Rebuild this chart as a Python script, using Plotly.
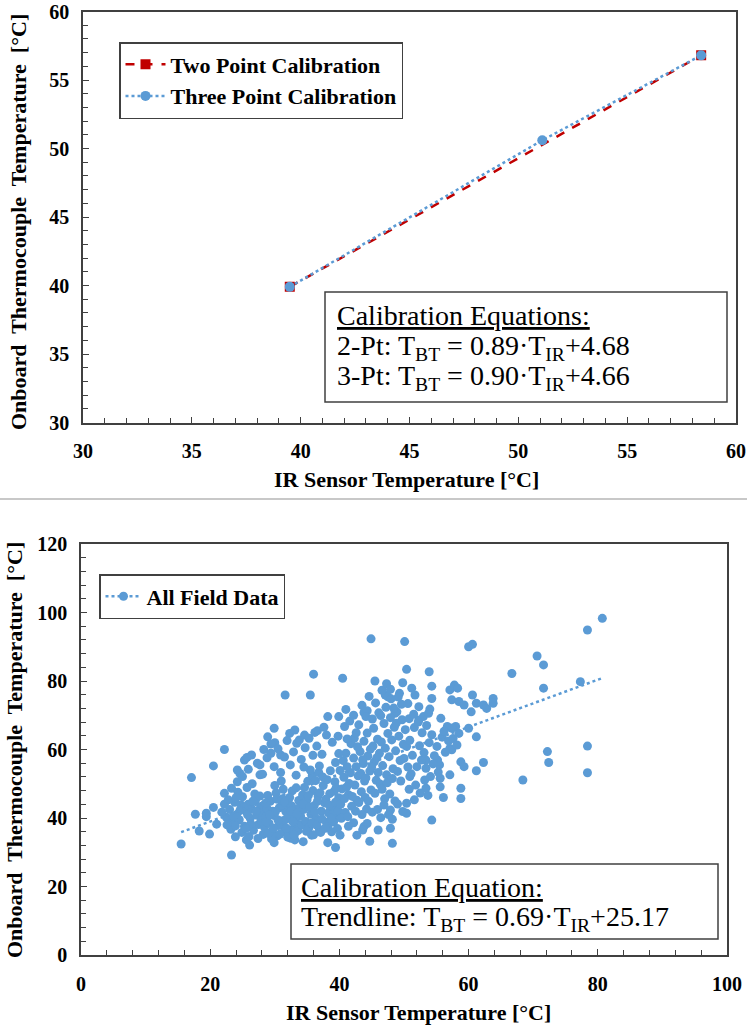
import plotly.graph_objects as go

W, H = 747, 1025

# ---------------- data: top chart (calibration) ----------------
two_pt_ir = [39.5, 58.4]
two_pt_tc = [39.9, 56.8]
three_pt_ir = [39.5, 51.1, 58.4]
three_pt_tc = [39.9, 50.6, 56.8]

# ---------------- data: bottom chart (field data) ----------------
field_points = [
    # sparse / outlying points
    (15.5, 32.4), (17.1, 51.8), (17.7, 41.1), (18.3, 36.2), (19.4, 41.4), (19.4, 40.4),
    (19.9, 35.3), (20.5, 55.2), (20.5, 43.1), (21.0, 38.2), (22.2, 60.0), (22.2, 47.2),
    (22.2, 44.0), (23.3, 29.2), (23.9, 34.5), (23.3, 48.7), (24.2, 54.0), (24.6, 53.0),
    (25.3, 56.9), (25.7, 57.7), (26.4, 58.4), (26.1, 32.1), (25.6, 33.6), (27.7, 55.5),
    (27.7, 52.6), (28.3, 60.0), (28.9, 63.7), (29.4, 58.9), (29.9, 66.2), (29.9, 32.8),
    (30.0, 62.0), (30.9, 58.4), (31.6, 75.9), (32.3, 64.7), (33.1, 65.7), (33.4, 61.8),
    (32.5, 34.1), (33.1, 33.6), (34.4, 33.1), (34.6, 64.2), (35.5, 75.9), (36.0, 82.0),
    (36.6, 65.5), (35.7, 35.0), (38.2, 69.6), (38.2, 32.8), (39.4, 31.4), (39.9, 69.6),
    (40.1, 35.0), (40.5, 80.8), (41.0, 71.7), (42.7, 35.0), (43.8, 37.5), (43.8, 70.8),
    (44.3, 71.3), (44.9, 92.3), (45.5, 80.0), (46.0, 36.5), (47.1, 75.9), (47.5, 75.4),
    (47.9, 37.0), (48.2, 32.6), (48.2, 39.6), (47.9, 42.3), (48.6, 70.6), (50.1, 91.5),
    (50.4, 83.4), (49.3, 76.4), (50.4, 41.4), (50.4, 44.3), (50.8, 48.4), (50.9, 52.1),
    (51.6, 45.3), (51.2, 77.9), (51.7, 75.9), (52.3, 72.5), (52.3, 68.6), (53.0, 69.6),
    (53.8, 70.6), (53.9, 82.7), (54.3, 78.5), (54.3, 74.9), (54.3, 39.4), (53.4, 56.9),
    (53.4, 54.5), (54.1, 52.1), (53.4, 48.7), (52.7, 56.9), (55.2, 56.9), (55.6, 51.6),
    (55.6, 49.1), (56.1, 46.0), (57.1, 52.6), (57.1, 60.3), (57.4, 59.9), (56.7, 66.7),
    (57.1, 77.4), (57.8, 78.8), (58.3, 77.9), (57.4, 74.5), (58.5, 74.0), (59.3, 73.0),
    (58.5, 64.7), (58.0, 66.7), (57.4, 66.2), (58.8, 56.4), (58.8, 48.7), (58.8, 45.7),
    (59.3, 55.0), (60.0, 66.2), (60.0, 90.0), (60.6, 90.7), (60.6, 75.9), (60.4, 71.0),
    (61.2, 73.5), (61.2, 63.7), (61.2, 53.8), (62.3, 56.2), (62.3, 73.0), (62.8, 72.0),
    (63.8, 74.9), (63.8, 73.5), (66.7, 82.2), (68.4, 51.1), (70.6, 87.3), (71.6, 84.7),
    (71.6, 77.9), (72.2, 59.4), (72.4, 56.2), (77.3, 79.8), (78.4, 94.9), (78.4, 61.0),
    (78.4, 53.2), (80.7, 98.3),
    # dense cluster, x 22-28
    (22.5, 40.2), (23.0, 42.5), (23.4, 38.8), (23.8, 44.6), (24.1, 41.0), (24.5, 39.5),
    (24.8, 43.8), (25.0, 46.2), (25.3, 37.6), (25.6, 41.8), (25.9, 44.0), (26.2, 39.9),
    (26.4, 42.7), (26.7, 36.4), (27.0, 45.1), (27.2, 40.8), (27.5, 38.1), (27.8, 43.3),
    (28.0, 41.5), (28.2, 35.2), (24.3, 47.5), (25.7, 48.9), (26.9, 47.0), (23.2, 36.7),
    (24.9, 35.8), (26.0, 34.6), (27.4, 34.0), (28.4, 37.3), (22.8, 45.3), (21.8, 41.7),
    (23.6, 40.6), (25.2, 43.0), (26.6, 44.9), (27.7, 46.4), (28.5, 43.9), (24.6, 42.2),
    (26.3, 38.3), (27.9, 39.2), (25.5, 36.9), (23.9, 37.7), (28.6, 40.3), (27.1, 42.0),
    (25.8, 40.9), (24.0, 45.9), (22.6, 38.0),
    # dense cluster, x 28-34
    (28.8, 42.8), (29.1, 38.5), (29.3, 44.9), (29.6, 36.2), (29.9, 40.7), (30.2, 47.3),
    (30.4, 34.8), (30.7, 43.0), (30.9, 39.1), (31.2, 45.6), (31.4, 37.4), (31.7, 41.9),
    (31.9, 35.6), (32.2, 44.0), (32.4, 39.8), (32.7, 47.9), (32.9, 36.9), (33.2, 42.3),
    (33.4, 38.4), (33.7, 45.1), (34.0, 40.5), (28.9, 46.6), (29.5, 33.9), (30.1, 41.9),
    (30.6, 37.8), (31.1, 43.8), (31.6, 39.5), (32.1, 41.1), (32.6, 43.5), (33.1, 40.1),
    (33.6, 36.3), (29.0, 35.5), (30.3, 45.5), (31.3, 48.4), (32.3, 46.0), (33.3, 48.8),
    (33.9, 43.3), (29.7, 42.0), (30.8, 35.3), (31.8, 37.0), (32.8, 38.9), (28.7, 38.9),
    (29.2, 40.9), (30.5, 39.4), (31.5, 44.7), (32.5, 42.0), (33.5, 41.4), (34.2, 38.0),
    (34.3, 46.7), (30.0, 49.5), (31.0, 50.8), (29.8, 37.0), (32.0, 34.4), (33.0, 35.0),
    (28.6, 44.4),
    # dense cluster, x 34-40
    (34.5, 42.5), (34.8, 39.0), (35.0, 45.3), (35.3, 37.2), (35.6, 41.1), (35.9, 48.0),
    (36.1, 43.6), (36.4, 39.8), (36.7, 46.4), (36.9, 36.6), (37.2, 42.0), (37.5, 49.5),
    (37.7, 44.4), (38.0, 38.7), (38.3, 41.5), (38.5, 47.1), (38.8, 36.0), (39.0, 43.0),
    (39.3, 50.6), (39.6, 40.2), (39.9, 45.9), (34.6, 48.9), (35.1, 50.7), (35.8, 52.4),
    (36.3, 50.9), (36.8, 53.3), (37.4, 52.0), (38.1, 51.2), (38.6, 53.8), (39.2, 47.8),
    (34.9, 36.1), (35.7, 38.5), (36.5, 37.9), (37.3, 39.7), (38.2, 37.5), (39.1, 38.8),
    (39.7, 36.9), (34.4, 44.1), (35.4, 43.2), (36.2, 41.7), (36.6, 44.9), (37.0, 47.4),
    (37.9, 45.5), (38.4, 43.8), (38.9, 41.0), (39.4, 44.6), (39.8, 42.1), (35.2, 46.6),
    (36.0, 35.1), (37.1, 35.8), (37.8, 37.0), (38.7, 39.9), (39.5, 48.8), (36.9, 55.2),
    (35.5, 54.0),
    # dense cluster, x 40-46
    (40.2, 44.0), (40.4, 48.5), (40.7, 51.9), (40.9, 41.6), (41.2, 55.0), (41.4, 46.8),
    (41.7, 53.2), (41.9, 43.4), (42.2, 57.5), (42.4, 49.6), (42.7, 45.2), (42.9, 52.3),
    (43.2, 59.4), (43.4, 47.7), (43.7, 55.9), (43.9, 50.8), (44.2, 42.6), (44.4, 58.1),
    (44.7, 53.7), (44.9, 48.2), (45.2, 61.0), (45.4, 56.4), (45.7, 51.0), (45.9, 63.0),
    (46.2, 58.9), (40.1, 53.9), (40.6, 56.8), (41.0, 58.9), (41.5, 50.1), (42.0, 46.3),
    (42.5, 42.0), (43.0, 44.5), (43.5, 41.0), (44.0, 46.0), (44.5, 44.9), (45.0, 54.9),
    (45.5, 47.2), (46.0, 53.3), (40.3, 39.9), (40.8, 45.7), (41.3, 40.4), (41.8, 61.7),
    (42.3, 63.3), (42.8, 60.8), (43.3, 53.0), (43.8, 62.4), (44.3, 64.8), (44.8, 60.1),
    (45.3, 66.2), (45.8, 57.6), (46.3, 49.9), (41.1, 49.0), (42.6, 55.0), (44.1, 51.7),
    (43.6, 57.0),
    # cluster, x 46-50
    (46.5, 62.2), (46.7, 55.3), (46.9, 67.6), (47.1, 60.4), (47.3, 52.6), (47.5, 64.7),
    (47.7, 57.9), (47.9, 69.3), (48.1, 62.8), (48.3, 54.4), (48.5, 66.5), (48.7, 59.6),
    (48.9, 71.0), (49.2, 63.9), (49.4, 56.8), (49.7, 68.7), (49.9, 61.5), (50.2, 65.8),
    (46.6, 48.4), (47.0, 45.6), (47.4, 50.3), (47.8, 47.0), (48.2, 51.5), (48.6, 45.0),
    (49.0, 53.6), (49.5, 50.8), (46.4, 69.9), (47.2, 72.3), (48.0, 74.8), (48.8, 67.7),
    (49.6, 73.2), (50.0, 57.4), (50.4, 60.9), (50.6, 54.9), (50.8, 69.0),
    # upper-left spread, x 24-40
    (24.2, 50.6), (25.0, 52.1), (25.9, 54.2), (26.5, 50.0), (27.3, 56.0), (28.1, 52.8),
    (28.8, 57.6), (29.4, 61.6), (29.9, 55.0), (30.5, 60.2), (30.9, 53.3), (31.5, 57.8),
    (31.9, 62.6), (32.4, 55.5), (32.9, 59.3), (33.3, 52.5), (33.8, 62.8), (34.1, 57.1),
    (34.7, 60.5), (35.3, 63.3), (35.9, 58.3), (36.5, 61.0), (37.3, 58.6), (38.0, 64.2),
    (38.9, 62.1), (39.4, 56.2), (39.9, 58.8), (36.2, 65.0), (37.6, 66.5), (34.5, 54.9),
    # upper band, x 40-50
    (40.8, 66.7), (41.6, 68.3), (42.2, 70.0), (43.0, 67.2), (43.5, 72.9), (44.1, 69.6),
    (44.6, 75.5), (45.1, 68.9), (45.6, 73.6), (46.1, 70.7), (46.6, 77.3), (47.3, 79.2),
    (47.9, 77.6), (48.4, 72.1), (49.1, 75.3), (49.8, 79.5), (50.6, 73.4), (42.6, 64.9),
    (39.8, 63.9), (41.2, 63.1),
    # x 50-58 body
    (50.9, 62.7), (51.3, 58.3), (51.6, 66.4), (52.0, 55.0), (52.4, 61.1), (52.8, 64.9),
    (53.1, 59.1), (53.5, 67.0), (53.9, 62.0), (54.3, 64.3), (54.7, 58.2), (55.1, 60.9),
    (55.5, 55.5), (55.9, 63.6), (56.4, 59.2), (56.9, 62.5), (51.1, 52.9), (51.8, 49.6),
    (52.5, 47.3), (53.2, 51.1), (53.7, 46.6), (54.5, 55.8), (55.3, 53.4), (56.2, 65.3),
    (57.6, 63.2), (58.2, 61.3), (51.5, 70.3), (52.2, 68.0), (54.0, 71.8), (55.7, 69.1),
    # lower right of cluster
    (44.3, 38.4), (45.1, 41.7), (45.9, 42.5), (46.4, 40.1), (46.9, 43.8), (47.6, 41.0),
    (49.0, 44.1), (49.8, 41.9), (44.7, 33.2), (43.6, 36.5), (42.2, 38.6), (41.4, 37.6),
]
field_ir = [p[0] for p in field_points]
field_tc = [p[1] for p in field_points]

# trendline as printed on the chart
trend_slope = 0.69
trend_intercept = 25.17
trend_ir = [min(field_ir), max(field_ir)]
trend_tc = [trend_slope * v + trend_intercept for v in trend_ir]

# ---------------- styling ----------------
RED = "#C00000"
BLUE = "#5B9BD5"
FRAME = "#404040"
SERIF = "Liberation Serif"


def px_x(p):
    return p / W


def px_y(p):
    return 1 - p / H


fig = go.Figure()

# top chart traces
fig.add_trace(go.Scatter(
    x=two_pt_ir, y=two_pt_tc, mode="lines+markers", name="Two Point Calibration",
    line=dict(color=RED, dash="dash", width=2.5),
    marker=dict(symbol="square", size=10, color=RED),
    xaxis="x", yaxis="y", legend="legend"))
fig.add_trace(go.Scatter(
    x=three_pt_ir, y=three_pt_tc, mode="lines+markers", name="Three Point Calibration",
    line=dict(color=BLUE, dash="dot", width=2.5),
    marker=dict(symbol="circle", size=10, color=BLUE),
    xaxis="x", yaxis="y", legend="legend"))

# bottom chart traces
fig.add_trace(go.Scatter(
    x=field_ir, y=field_tc, mode="markers", name="All Field Data", showlegend=False,
    marker=dict(symbol="circle", size=9, color=BLUE),
    xaxis="x2", yaxis="y2"))
fig.add_trace(go.Scatter(
    x=trend_ir, y=trend_tc, mode="lines", showlegend=False,
    line=dict(color=BLUE, dash="dot", width=2.5),
    xaxis="x2", yaxis="y2"))
fig.add_trace(go.Scatter(
    x=[None], y=[None], mode="lines+markers", name="All Field Data",
    line=dict(color=BLUE, dash="dot", width=2.5),
    marker=dict(symbol="circle", size=9, color=BLUE),
    xaxis="x2", yaxis="y2", legend="legend2"))

tickfont = dict(family=SERIF, size=20, color="black", weight="bold")


def axis_common(**kw):
    d = dict(showline=True, linecolor=FRAME, linewidth=1.5, mirror=True,
             showgrid=False, zeroline=False, ticks="inside", ticklen=6,
             tickcolor=FRAME, tickwidth=1.2, tickfont=tickfont, automargin=False)
    d.update(kw)
    return d


fig.update_layout(
    width=W, height=H, margin=dict(l=0, r=0, t=0, b=0, autoexpand=False),
    paper_bgcolor="white", plot_bgcolor="white",
    xaxis=axis_common(domain=[px_x(83), px_x(736)], range=[30, 60], dtick=5,
                      minor=dict(dtick=1, ticks="inside", ticklen=5, tickcolor=FRAME),
                      anchor="y", ticklabelstandoff=10),
    yaxis=axis_common(domain=[px_y(422.5), px_y(11.5)], range=[30, 60], dtick=5,
                      minor=dict(dtick=1, ticks="inside", ticklen=5, tickcolor=FRAME),
                      anchor="x", ticklabelstandoff=8),
    xaxis2=axis_common(domain=[px_x(81), px_x(727)], range=[0, 100], dtick=20,
                       minor=dict(dtick=4, ticks="inside", ticklen=5, tickcolor=FRAME),
                       anchor="y2", ticklabelstandoff=10),
    yaxis2=axis_common(domain=[px_y(955), px_y(544)], range=[0, 120], dtick=20,
                       minor=dict(dtick=4, ticks="inside", ticklen=5, tickcolor=FRAME),
                       anchor="x2", ticklabelstandoff=8),
    legend=dict(x=px_x(119), y=px_y(42), xanchor="left", yanchor="top",
                bordercolor=FRAME, borderwidth=1.5, bgcolor="white",
                font=dict(family=SERIF, size=22, color="black", weight="bold"),
                itemwidth=40, tracegroupgap=0),
    legend2=dict(x=px_x(99), y=px_y(574), xanchor="left", yanchor="top",
                 bordercolor=FRAME, borderwidth=1.5, bgcolor="white",
                 font=dict(family=SERIF, size=22, color="black", weight="bold"),
                 itemwidth=36),
)

shapes = [
    # separator between the two panels
    dict(type="line", xref="paper", yref="paper", x0=0, x1=1,
         y0=px_y(499), y1=px_y(499), line=dict(color="#C8C8C8", width=2)),
    # equation boxes
    dict(type="rect", xref="paper", yref="paper", x0=px_x(325), x1=px_x(727),
         y0=px_y(402), y1=px_y(292), line=dict(color=FRAME, width=1.5),
         fillcolor="white", layer="above"),
    dict(type="rect", xref="paper", yref="paper", x0=px_x(291), x1=px_x(718),
         y0=px_y(939), y1=px_y(864), line=dict(color=FRAME, width=1.5),
         fillcolor="white", layer="above"),
]
fig.update_layout(shapes=shapes)

eqfont = dict(family=SERIF, size=28, color="black")
titlefont = dict(family=SERIF, size=22, color="black", weight="bold")
annots = [
    dict(text="<u>Calibration Equations:</u>", x=px_x(335), y=px_y(315)),
    dict(text="2-Pt: T<sub>BT</sub> = 0.89·T<sub>IR</sub>+4.68", x=px_x(335), y=px_y(347)),
    dict(text="3-Pt: T<sub>BT</sub> = 0.90·T<sub>IR</sub>+4.66", x=px_x(335), y=px_y(377)),
    dict(text="<u>Calibration Equation:</u>", x=px_x(299), y=px_y(887)),
    dict(text="Trendline: T<sub>BT</sub> = 0.69·T<sub>IR</sub>+25.17", x=px_x(299), y=px_y(918)),
]
ann_list = []
for a in annots:
    ann_list.append(dict(xref="paper", yref="paper", xanchor="left", yanchor="middle",
                         showarrow=False, font=eqfont, **a))

# axis titles
ann_list += [
    dict(text="IR Sensor Temperature [°C]", x=px_x(406), y=px_y(480)),
    dict(text="Onboard  Thermocouple  Temperature  [°C]", x=px_x(19), y=px_y(222),
         textangle=-90),
    dict(text="IR Sensor Temperature [°C]", x=px_x(418), y=px_y(1012)),
    dict(text="Onboard  Thermocouple  Temperature  [°C]", x=px_x(14), y=px_y(750),
         textangle=-90),
]
for a in ann_list[len(annots):]:
    a.update(xref="paper", yref="paper", xanchor="center", yanchor="middle",
             showarrow=False, font=titlefont)

fig.update_layout(annotations=ann_list)

fig.write_html("out.html", config={"displayModeBar": False},
               post_script="document.body.style.margin='0';document.body.style.overflow='hidden';")
